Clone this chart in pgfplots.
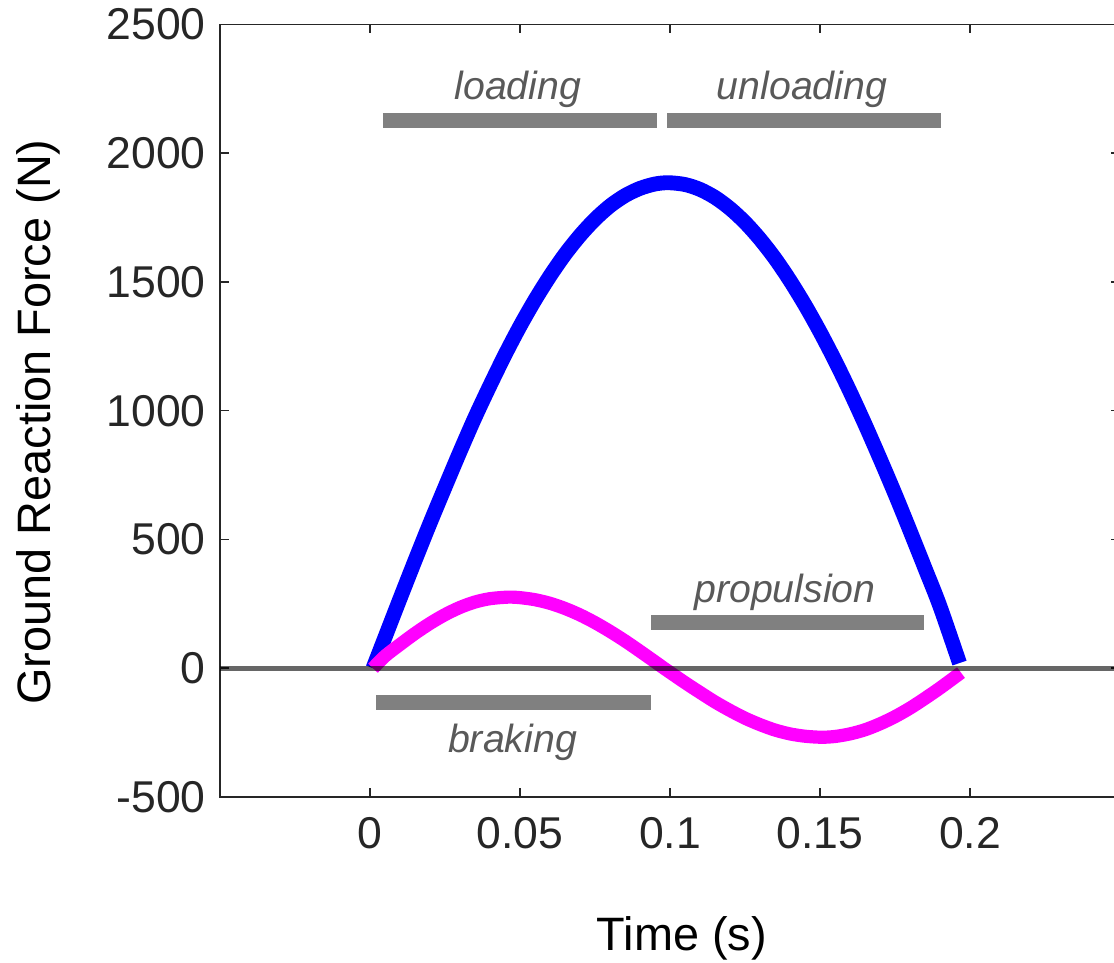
\documentclass[border=0pt]{standalone}
\usepackage{pgfplots}
\pgfplotsset{compat=1.18}
\usepackage{fontspec}
\setmainfont{Liberation Sans}
\definecolor{axgray}{HTML}{262626}
\definecolor{bargray}{HTML}{808080}
\definecolor{txtgray}{HTML}{595959}
\definecolor{fzblue}{RGB}{0,0,255}
\definecolor{fxmag}{RGB}{255,0,255}
\begin{document}
\begin{tikzpicture}
\begin{axis}[
  scale only axis,
  width=272.73pt, height=234.15pt,
  xmin=-0.05, xmax=0.25, ymin=-500, ymax=2500,
  xtick={0,0.05,0.1,0.15,0.2}, xticklabels={0,0.05,0.1,0.15,0.2},
  ytick={-500,0,500,1000,1500,2000,2500},
  yticklabels={-500,0,500,1000,1500,2000,2500},
  /pgf/number format/assume math mode=true,
  tick align=inside, major tick length=2.7pt,
  axis line style={axgray, line width=0.45pt},
  every tick/.style={axgray, line width=0.45pt},
  ticklabel style={font=\fontsize{13.5}{16}\selectfont, text=axgray},
  yticklabel style={xshift=-0.8pt},
  xticklabel style={yshift=-2.5pt},
  xlabel={Time (s)}, ylabel={Ground Reaction Force (N)},
  label style={font=\fontsize{14.2}{17}\selectfont, text=black},
  xlabel style={at={(axis description cs:0.5133,-0.1993)}, anchor=base},
  ylabel style={at={(axis description cs:-0.1888,0.4853)}, anchor=base},
]
\coordinate (O) at (rel axis cs:0,0);
% vertical force
\addplot[color=fzblue, line width=4.5pt, smooth, line join=round] coordinates {
(0.001,0) (0.005,120) (0.01,270) (0.015,418) (0.02,563) (0.025,703) (0.03,841)
(0.035,974) (0.04,1098) (0.045,1217) (0.05,1328) (0.055,1430) (0.06,1523)
(0.065,1607) (0.07,1680) (0.075,1743) (0.08,1795) (0.085,1835) (0.09,1863)
(0.095,1880) (0.0995,1885) (0.105,1878) (0.11,1859) (0.115,1828) (0.12,1785)
(0.125,1731) (0.13,1666) (0.135,1591) (0.14,1505) (0.145,1410) (0.15,1306)
(0.155,1194) (0.16,1074) (0.165,947) (0.17,814) (0.175,677) (0.18,534)
(0.185,388) (0.19,240) (0.1965,20)
};
% horizontal force
\addplot[color=fxmag, line width=4pt, smooth, line join=round] coordinates {
(0.001,0) (0.005,47) (0.01,92) (0.015,135) (0.02,174) (0.025,208) (0.03,236)
(0.035,257) (0.04,270) (0.046,276) (0.05,274) (0.055,266) (0.06,252)
(0.065,232) (0.07,207) (0.075,177) (0.08,143) (0.085,106) (0.09,66) (0.095,25)
(0.098,0) (0.1,-16) (0.105,-56) (0.11,-94) (0.115,-131) (0.12,-164)
(0.125,-194) (0.13,-219) (0.135,-240) (0.14,-255) (0.145,-264) (0.1505,-268)
(0.155,-265) (0.16,-255) (0.165,-239) (0.17,-216) (0.175,-188) (0.18,-155)
(0.185,-117) (0.19,-77) (0.197,-17)
};
% zero line
\addplot[color=black, opacity=0.6, line width=1.4pt] coordinates {(-0.05,0) (0.25,0)};
% phase bars
\addplot[color=bargray, line width=4.5pt] coordinates {(0.00433,2127) (0.09567,2127)};
\addplot[color=bargray, line width=4.5pt] coordinates {(0.0990,2127) (0.19033,2127)};
\addplot[color=bargray, line width=4.5pt] coordinates {(0.0020,-132) (0.0937,-132)};
\addplot[color=bargray, line width=4.5pt] coordinates {(0.0937,178) (0.18467,178)};
% labels
\node[anchor=base, text=txtgray, font=\fontsize{11.9}{14}\selectfont\itshape] at (axis cs:0.0493,2209) {loading};
\node[anchor=base, text=txtgray, font=\fontsize{11.9}{14}\selectfont\itshape] at (axis cs:0.144,2209) {unloading};
\node[anchor=base, text=txtgray, font=\fontsize{11.9}{14}\selectfont\itshape] at (axis cs:0.1383,256) {propulsion};
\node[anchor=base, text=txtgray, font=\fontsize{11.9}{14}\selectfont\itshape] at (axis cs:0.0475,-326) {braking};
\end{axis}
\pgfresetboundingbox
\path[use as bounding box] ([shift={(-66.67pt,-50.30pt)}]O) rectangle ([shift={(270.91pt,241.52pt)}]O);
\end{tikzpicture}
\end{document}
